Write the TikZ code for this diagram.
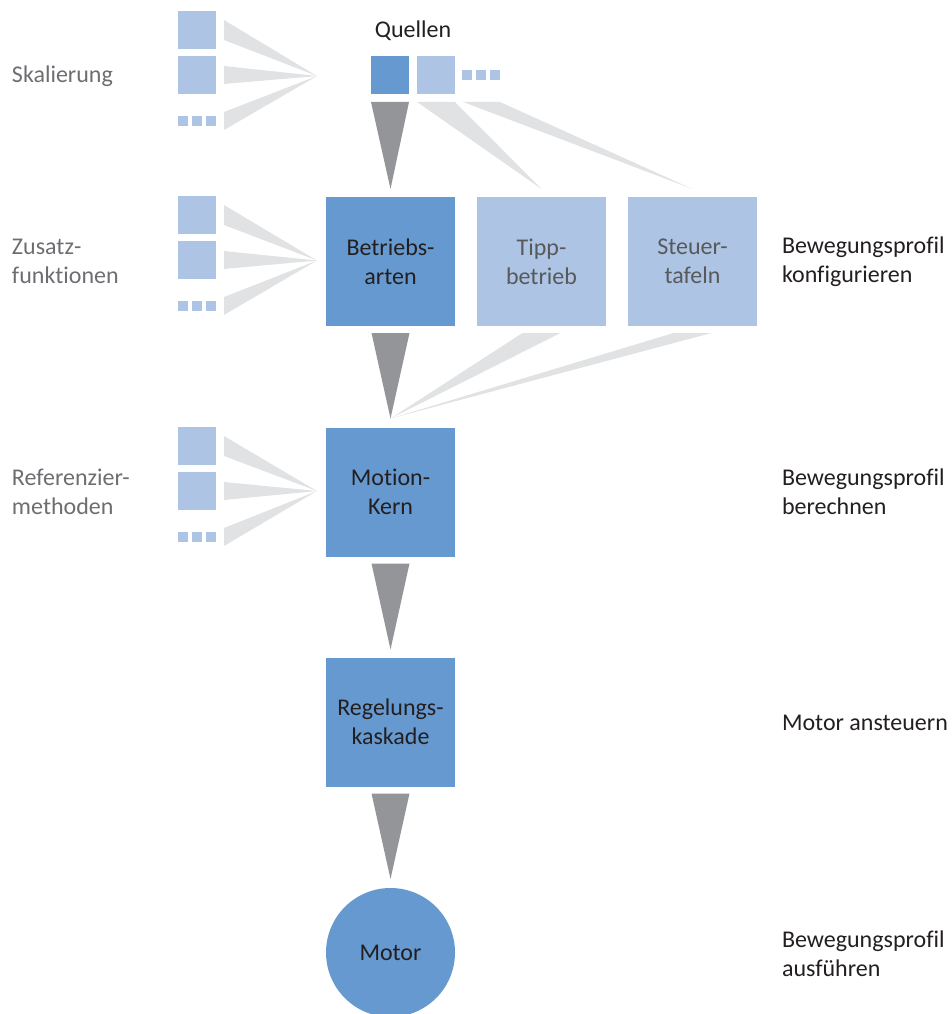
\documentclass[tikz,border=0pt]{standalone}
\usepackage{fontspec}
\setmainfont{Carlito}[Ligatures=NoCommon]
\usetikzlibrary{calc}
\definecolor{dblue}{HTML}{6699CF}
\definecolor{lblue}{HTML}{ADC4E4}
\definecolor{tri}{HTML}{939598}
\definecolor{fan}{HTML}{E1E2E4}
\definecolor{txtdark}{HTML}{231F20}
\definecolor{txtgray}{HTML}{6D6E71}
\definecolor{txtmid}{HTML}{58595B}
\begin{document}
\begin{tikzpicture}[x=1pt,y=-1pt,
  every node/.style={inner sep=0pt, outer sep=0pt, font=\fontsize{24}{29}\selectfont},
  bigbox/.style={minimum width=129pt, minimum height=129pt, align=center, fill=dblue, text=txtdark},
  lightbox/.style={bigbox, fill=lblue, text=txtmid},
  srcbox/.style={minimum size=38pt, fill=lblue},
  srcdark/.style={minimum size=38pt, fill=dblue},
  srcdot/.style={minimum size=10pt, fill=lblue},
  leftlabel/.style={anchor=west, align=left, text=txtgray},
  rightlabel/.style={anchor=west, align=left, text=txtdark},
  arrowtri/.style={fill=tri},
  fanshape/.style={fill=fan}]
\useasboundingbox (0,0) rectangle (951,1014);

% ---------- sources, row 1 (Skalierung)
\node[srcbox] (s1a) at (197,30) {};
\node[srcbox] (s1b) at (197,75) {};
\node[srcdot] (d1a) at (183,121) {};
\node[srcdot] (d1b) at (197,121) {};
\node[srcdot] (d1c) at (211,121) {};
\coordinate (t1) at (317,76);
% ---------- sources, row 2 (Zusatzfunktionen)
\node[srcbox] (s2a) at (197,215) {};
\node[srcbox] (s2b) at (197,260) {};
\node[srcdot] (d2a) at (183,306) {};
\node[srcdot] (d2b) at (197,306) {};
\node[srcdot] (d2c) at (211,306) {};
\coordinate (t2) at (317,260.5);
% ---------- sources, row 3 (Referenziermethoden)
\node[srcbox] (s3a) at (197,446) {};
\node[srcbox] (s3b) at (197,491) {};
\node[srcdot] (d3a) at (183,537) {};
\node[srcdot] (d3b) at (197,537) {};
\node[srcdot] (d3c) at (211,537) {};
\coordinate (t3) at (317,491);

% ---------- Quellen
\node[text=txtdark] (ql) at (413,31) {Quellen};
\node[srcdark] (q1) at (390,75) {};
\node[srcbox] (q2) at (436,75) {};
\node[srcdot] (qd1) at (467,75) {};
\node[srcdot] (qd2) at (481,75) {};
\node[srcdot] (qd3) at (495,75) {};

% ---------- main boxes
\node[bigbox] (ba) at (390.5,261.5) {Betriebs-\\arten};
\node[lightbox] (tb) at (541.5,261.5) {Tipp-\\betrieb};
\node[lightbox] (st) at (692.5,261.5) {Steuer-\\tafeln};
\node[bigbox] (mk) at (390.5,492) {Motion-\\Kern};
\node[bigbox] (rk) at (390.5,722) {Regelungs-\\kaskade};
\node[circle, minimum size=129pt, fill=dblue, text=txtdark] (mo) at (390.5,952.5) {Motor};

% ---------- labels
\node[leftlabel] (l1) at (12,76) {Skalierung};
\node[leftlabel] (l2) at (12,261.5) {Zusatz-\\funktionen};
\node[leftlabel] (l3) at (12,492) {Referenzier-\\methoden};
\node[rightlabel] (r1) at (782,261.5) {Bewegungsprofil\\konfigurieren};
\node[rightlabel] (r2) at (782,492) {Bewegungsprofil\\berechnen};
\node[rightlabel] (r3) at (782,722.5) {Motor ansteuern};
\node[rightlabel] (r4) at (782,954) {Bewegungsprofil\\ausführen};

% ---------- left fans
\foreach \r in {1,2,3}{
  \fill[fanshape] ($(s\r a.east)+(8,-10)$) -- ($(s\r a.east)+(8,10)$) -- (t\r) -- cycle;
  \fill[fanshape] ($(s\r b.east)+(8,-9)$) -- ($(s\r b.east)+(8,9)$) -- (t\r) -- cycle;
  \fill[fanshape] ($(d\r c.east)+(8,-9)$) -- ($(d\r c.east)+(8,9)$) -- (t\r) -- cycle;
}

% ---------- light fans
\fill[fanshape] ($(q2.south west)+(0,8)$) -- ($(q2.south east)+(0,8)$) -- ($(tb.north)+(0,-8)$) -- cycle;
\fill[fanshape] ($(qd1.west |- q2.south)+(1,8)$) -- ($(qd3.east |- q2.south)+(0,8)$) -- ($(st.north)+(0,-8)$) -- cycle;
\fill[fanshape] ($(tb.south)+(-19,7)$) -- ($(tb.south)+(19,7)$) -- ($(mk.north)+(0,-9)$) -- cycle;
\fill[fanshape] ($(st.south)+(-19,7)$) -- ($(st.south)+(19,7)$) -- ($(mk.north)+(0,-9)$) -- cycle;

% ---------- main flow triangles
\fill[arrowtri] ($(q1.south west)+(0,8)$) -- ($(q1.south east)+(0,8)$) -- ($(ba.north)+(0,-8)$) -- cycle;
\fill[arrowtri] ($(ba.south)+(-19,7)$) -- ($(ba.south)+(19,7)$) -- ($(mk.north)+(0,-9)$) -- cycle;
\fill[arrowtri] ($(mk.south)+(-19,7)$) -- ($(mk.south)+(19,7)$) -- ($(rk.north)+(0,-8)$) -- cycle;
\fill[arrowtri] ($(rk.south)+(-19,7)$) -- ($(rk.south)+(19,7)$) -- ($(mo.north)+(0,-9)$) -- cycle;
\end{tikzpicture}
\end{document}
